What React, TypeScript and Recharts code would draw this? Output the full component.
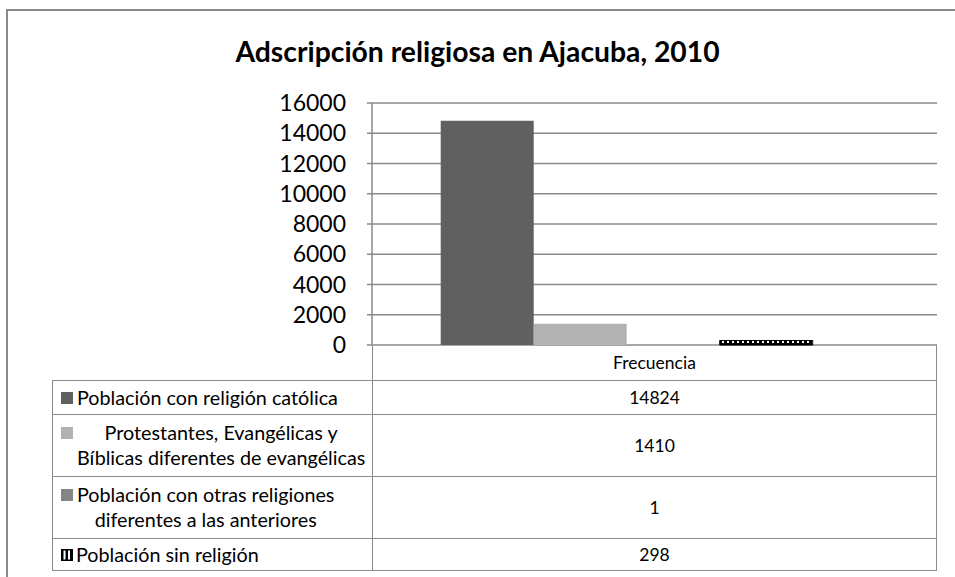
import React from 'react';
import { BarChart, Bar, XAxis, YAxis, CartesianGrid } from 'recharts';

const categories = ['Frecuencia'];
const seriesLabels = [
  ['Población con religión católica'],
  ['Protestantes, Evangélicas y', 'Bíblicas diferentes de evangélicas'],
  ['Población con otras religiones', 'diferentes a las anteriores'],
  ['Población sin religión'],
];
const seriesValues = [14824, 1410, 1, 298];
const yTicks = [0, 2000, 4000, 6000, 8000, 10000, 12000, 14000, 16000];

const COLORS = ['#606060', '#b2b2b2', '#858585', 'url(#stripes)'];
const FONT = 'Lato, "Open Sans", sans-serif';
const BORDER = '#8a8a8a';

// plot frame
const W = 955;
const H = 577;
const PLOT_LEFT = 372;
const PLOT_RIGHT = 937;
const PLOT_TOP = 103;
const PLOT_BOTTOM = 345;
const ROW_HEIGHTS = [34, 62, 62, 33];
const HEADER_H = 35;
const TABLE_LEFT = 52;

const chartData = categories.map(name => {
  const row: Record<string, any> = { name };
  seriesValues.forEach((v, i) => { row[`s${i}`] = v; });
  return row;
});

function LegendKey({ i }: { i: number }) {
  if (i === 3) {
    return (
      <svg width={12} height={12} style={{ flex: 'none', marginRight: 3 }}>
        <rect x={0} y={0} width={12} height={12} fill="#000" />
        <rect x={2.5} y={1.5} width={2} height={9} fill="#fff" />
        <rect x={7} y={1.5} width={2} height={9} fill="#fff" />
      </svg>
    );
  }
  return <span style={{ flex: 'none', width: 12, height: 12, background: COLORS[i], marginRight: 4 }} />;
}

function DataTable() {
  const colW = PLOT_RIGHT - PLOT_LEFT;
  return (
    <div style={{ position: 'absolute', left: 0, top: PLOT_BOTTOM, width: W, fontFamily: FONT, color: '#000' }}>
      <div style={{
        position: 'absolute', left: PLOT_LEFT, top: 0, width: colW, height: HEADER_H,
        borderLeft: `1.5px solid ${BORDER}`, borderRight: `1.5px solid ${BORDER}`, boxSizing: 'border-box',
        display: 'flex', alignItems: 'center', justifyContent: 'center', fontSize: 17.5,
      }}>
        {categories[0]}
      </div>
      {seriesLabels.map((lines, i) => {
        const top = HEADER_H + ROW_HEIGHTS.slice(0, i).reduce((a, b) => a + b, 0);
        const h = ROW_HEIGHTS[i];
        const multi = lines.length > 1;
        const last = i === seriesLabels.length - 1;
        return (
          <React.Fragment key={i}>
            <div style={{
              position: 'absolute', left: TABLE_LEFT, top, width: PLOT_LEFT - TABLE_LEFT, height: h,
              borderTop: `1.5px solid ${BORDER}`, borderLeft: `1.5px solid ${BORDER}`,
              borderBottom: last ? `1.5px solid ${BORDER}` : undefined,
              boxSizing: 'border-box', display: 'flex', alignItems: multi ? 'flex-start' : 'center',
              paddingLeft: 8, paddingTop: multi ? 5 : 0, fontSize: 19.75, lineHeight: '25px',
            }}>
              <div style={{ display: 'flex', alignItems: 'center', height: 25 }}>
                <LegendKey i={i} />
              </div>
              <div style={{ display: 'inline-block', textAlign: multi ? 'center' : 'left', whiteSpace: 'nowrap' }}>
                {lines.map((l, k) => <div key={k}>{l}</div>)}
              </div>
            </div>
            <div style={{
              position: 'absolute', left: PLOT_LEFT, top, width: colW, height: h,
              borderTop: `1.5px solid ${BORDER}`, borderLeft: `1.5px solid ${BORDER}`, borderRight: `1.5px solid ${BORDER}`,
              borderBottom: last ? `1.5px solid ${BORDER}` : undefined,
              boxSizing: 'border-box', display: 'flex', alignItems: 'center', justifyContent: 'center', fontSize: 17.5,
            }}>
              {seriesValues[i]}
            </div>
          </React.Fragment>
        );
      })}
    </div>
  );
}

export default function App() {
  return (
    <div style={{ position: 'fixed', left: 0, top: 0, width: W, height: H, background: '#fff', overflow: 'hidden' }}>
      <div style={{
        position: 'absolute', left: 6, top: 9, width: 970, height: 600,
        border: `2px solid ${BORDER}`, boxSizing: 'border-box',
      }} />
      <div style={{
        position: 'absolute', left: 0, top: 34, width: W, textAlign: 'center',
        fontFamily: FONT, fontWeight: 700, fontSize: 28.3, color: '#000',
      }}>
        Adscripción religiosa en Ajacuba, 2010
      </div>
      <div style={{ position: 'absolute', left: 0, top: 0 }}>
        <BarChart
          width={W}
          height={H}
          data={chartData}
          margin={{ top: PLOT_TOP, right: W - PLOT_RIGHT, bottom: H - PLOT_BOTTOM, left: PLOT_LEFT - 80 }}
          barCategoryGap="13.5%"
          barGap={0}
        >
          <defs>
            <pattern id="stripes" width={5} height={4} patternUnits="userSpaceOnUse">
              <rect x={0} y={0} width={5} height={4} fill="#000" />
              <rect x={2} y={1} width={2} height={2} fill="#fff" />
            </pattern>
          </defs>
          <CartesianGrid vertical={false} stroke={BORDER} strokeWidth={1.5} />
          <XAxis dataKey="name" hide padding={{ left: 0, right: 56 }} />
          <YAxis
            width={80}
            domain={[0, 16000]}
            ticks={yTicks}
            interval={0}
            stroke={BORDER}
            strokeWidth={1.5}
            tickSize={5}
            tickMargin={21}
            tick={{ fontSize: 23, fill: '#000', fontFamily: FONT }}
          />
          {seriesValues.map((_, i) => (
            <Bar
              key={i}
              dataKey={`s${i}`}
              fill={COLORS[i]}
              stroke={i === 3 ? '#000' : undefined}
              strokeWidth={i === 3 ? 1 : 0}
              isAnimationActive={false}
            />
          ))}
        </BarChart>
      </div>
      <DataTable />
    </div>
  );
}
